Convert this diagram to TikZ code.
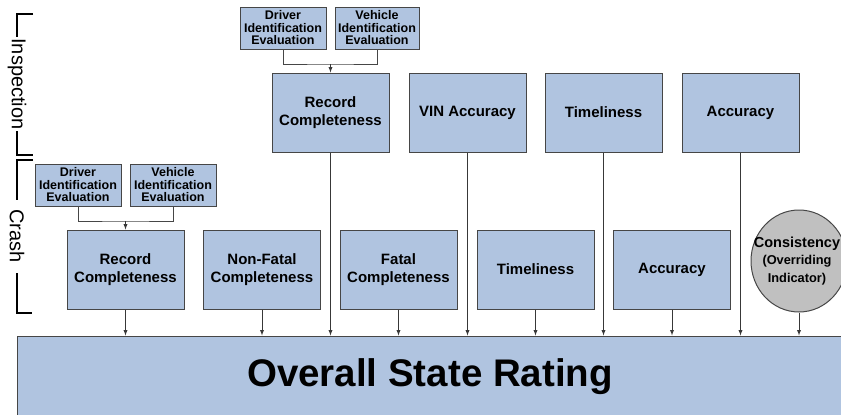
\documentclass[tikz,border=0pt]{standalone}
\usepackage{fontspec}
\setmainfont{Liberation Sans}
\usetikzlibrary{shapes.geometric}
\definecolor{boxblue}{RGB}{176,196,224}
\definecolor{rimgray}{RGB}{70,70,70}
\definecolor{dotgray}{RGB}{192,192,192}
\tikzset{
	measure/.style={draw=rimgray, fill=boxblue, line width=1pt, minimum width=117pt, minimum height=79pt, inner sep=0pt, align=center, font=\fontsize{15}{18}\selectfont\bfseries},
	evalbox/.style={draw=rimgray, fill=boxblue, line width=1pt, minimum width=86pt, minimum height=42pt, inner sep=0pt, align=center, font=\fontsize{12.5}{12.5}\selectfont\bfseries},
	feed/.style={draw=rimgray!80!black, line width=0.9pt, ->, >=latex},
	tie/.style={draw=rimgray, line width=0.8pt},
	bracket/.style={line width=1.8pt},
	side/.style={rotate=-90, font=\fontsize{20}{20}\selectfont}
}
\begin{document}
\begin{tikzpicture}[x=1pt, y=-1pt]
	\useasboundingbox (0,0) rectangle (841,415);
	% overall rating bar
	\node[draw=rimgray, fill=boxblue, line width=1pt, minimum width=826pt, minimum height=81pt, font=\fontsize{38.5}{40}\selectfont\bfseries] (rating) at (430,376.5) {Overall State Rating};
	% inspection row
	\node[measure] (recI) at (330.5,112.5) {Record\\Completeness};
	\node[measure] (vinI) at (467.5,112.5) {VIN Accuracy};
	\node[measure] (timeI) at (603.5,112.5) {Timeliness};
	\node[measure] (accI) at (740.5,112.5) {Accuracy};
	\node[evalbox] (drvI) at (283,28) {Driver\\Identification\\Evaluation};
	\node[evalbox, minimum width=84pt] (vehI) at (377,28) {Vehicle\\Identification\\Evaluation};
	\coordinate (joinI) at (330.5,64);
	% crash row
	\node[measure] (recC) at (125.5,269.5) {Record\\Completeness};
	\node[measure] (nfC) at (262,269.5) {Non-Fatal\\Completeness};
	\node[measure] (fatC) at (398.5,269.5) {Fatal\\Completeness};
	\node[measure] (timeC) at (535.5,269.5) {Timeliness};
	\node[measure] (accC) at (672,269.5) {Accuracy};
	\node[evalbox] (drvC) at (78,185) {Driver\\Identification\\Evaluation};
	\node[evalbox] (vehC) at (173,185) {Vehicle\\Identification\\Evaluation};
	\coordinate (joinC) at (125.5,221);
	% overriding indicator
	\node[ellipse, draw=rimgray, fill=dotgray, line width=1pt, minimum width=96pt, minimum height=102pt, inner sep=0pt] (consC) at (799,261) {};
	\node[align=center, inner sep=0pt, font=\fontsize{12.8}{17.5}\selectfont\bfseries] (consText) at ([xshift=-2pt]consC.center) {{\fontsize{14.5}{17.5}\selectfont Consistency}\\(Overriding\\Indicator)};
	% evaluation joins
	\draw[tie] (drvI.south) |- (joinI) -| (vehI.south);
	\draw[feed] (joinI) -- (recI.north);
	\draw[tie] (drvC.south) |- (joinC) -| (vehC.south);
	\draw[feed] (joinC) -- (recC.north);
	% feeds into the rating
	\foreach \m in {recI,vinI,timeI,accI,recC,nfC,fatC,timeC,accC,consC}
		\draw[feed] (\m.south) -- (\m.south |- rating.north);
	% side brackets
	\draw[bracket] (33,14) -- (17,14) -- (17,37);
	\draw[bracket] (17,131) -- (17,155) -- (33,155);
	\node[side] (inspLabel) at (17,84) {Inspection};
	\draw[bracket] (33,160) -- (17,160) -- (17,200);
	\draw[bracket] (17,273) -- (17,313) -- (32,313);
	\node[side] (crashLabel) at (17,236) {Crash};
\end{tikzpicture}
\end{document}
